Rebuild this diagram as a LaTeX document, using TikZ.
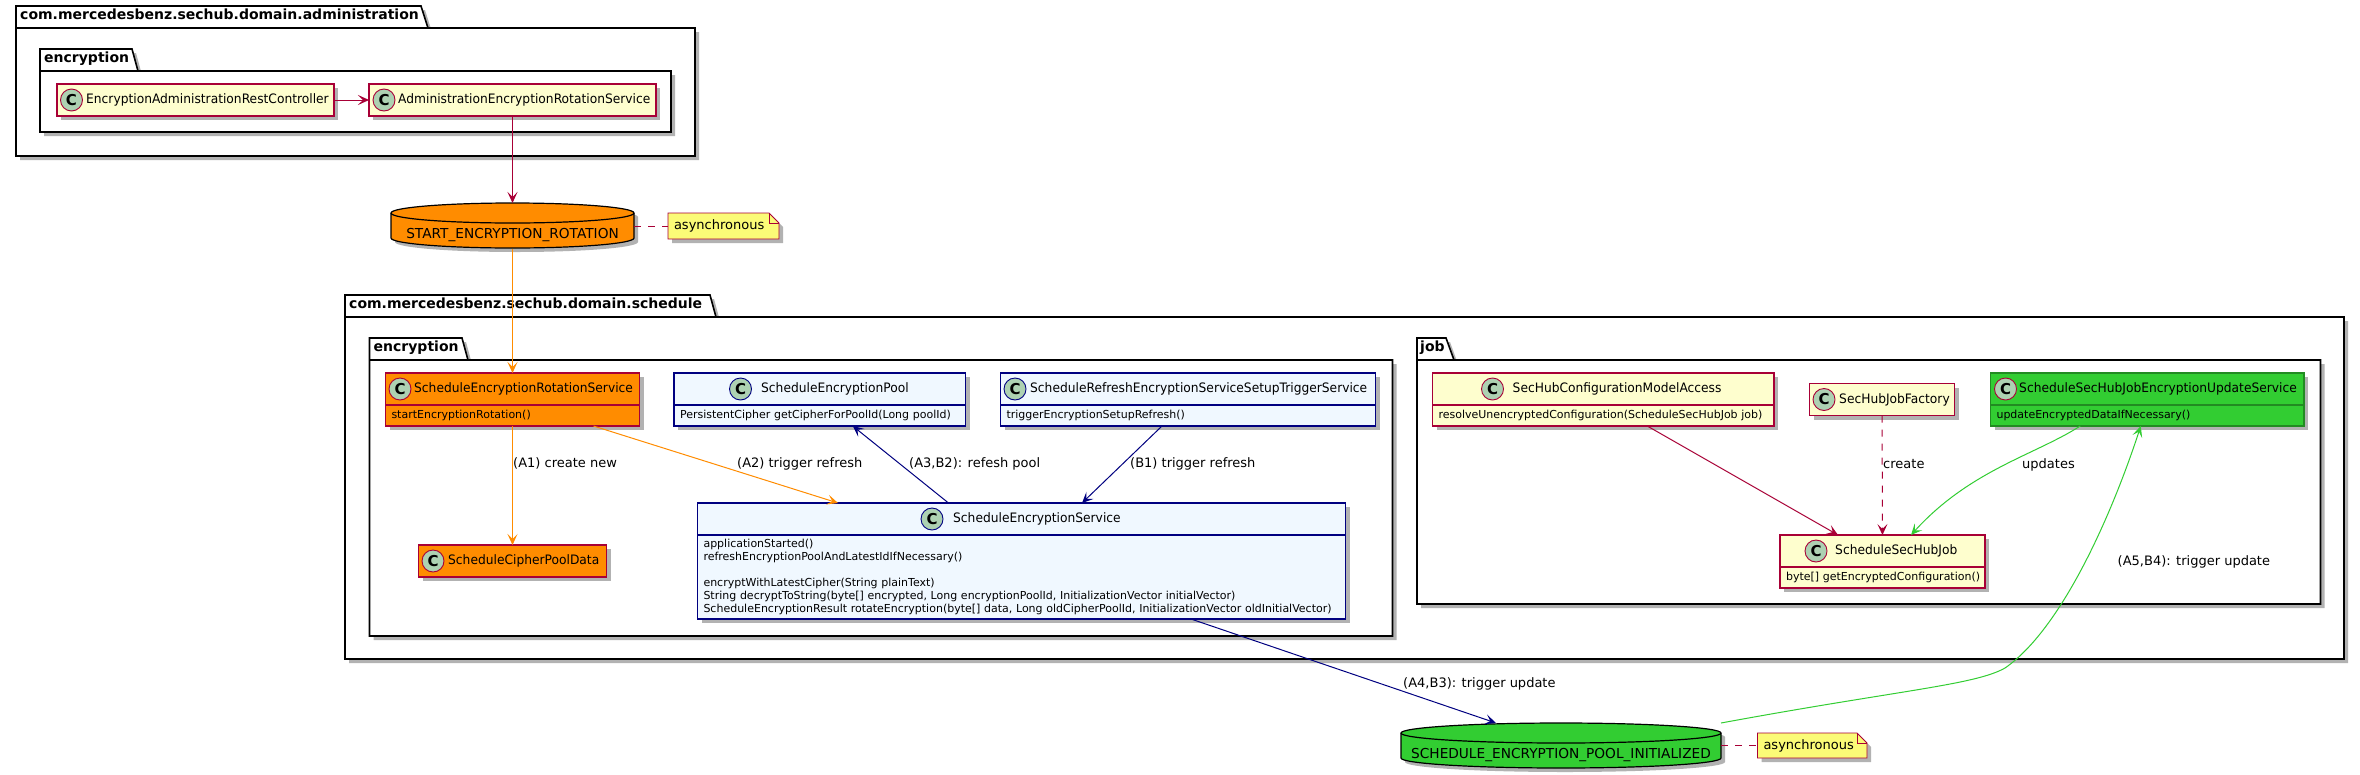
\documentclass[tikz,border=0pt]{standalone}
\usepackage{fontspec}
\setmainfont{DejaVu Sans}
\newfontfamily\classfont[FakeStretch=0.943]{DejaVu Sans}
\usetikzlibrary{arrows.meta,shadows}
\definecolor{classred}{HTML}{A80036}
\definecolor{classfill}{HTML}{FEFECE}
\definecolor{spotfill}{HTML}{ADD1B2}
\definecolor{notefill}{HTML}{FBFB77}
\definecolor{bluefill}{HTML}{F0F8FF}
\definecolor{bluedraw}{HTML}{000080}
\definecolor{orangefill}{HTML}{FF8C00}
\definecolor{greenfill}{HTML}{32CD32}
\definecolor{greendraw}{HTML}{228B22}
\begin{document}
\begin{tikzpicture}[x=1pt, y=-1pt,
    softshadow/.style={drop shadow={shadow xshift=4pt, shadow yshift=-4pt, fill=black, opacity=0.3}},
    package/.style={draw=black, line width=1.6pt, fill=white, line join=miter, softshadow},
    pkglabel/.style={anchor=west, inner sep=0pt, text height=10pt, text depth=3pt, font=\fontsize{14}{16}\selectfont\bfseries},
    classbox/.style={rectangle, draw=classred, fill=classfill, line width=1.1pt, anchor=north west, minimum height=32pt, inner sep=0pt, outer sep=0pt, softshadow},
    methodbox/.style={classbox, minimum height=21pt, inner xsep=6pt, align=left, font=\fontsize{11}{12.9}\selectfont},
    bluestyle/.style={draw=bluedraw, fill=bluefill},
    orangestyle/.style={fill=orangefill},
    greenstyle/.style={draw=greendraw, fill=greenfill},
    spot/.style={circle, draw=classred, fill=spotfill, line width=0.9pt, minimum size=22pt, inner sep=0pt, font=\fontsize{15}{16}\selectfont\bfseries},
    title/.style={anchor=west, inner sep=0pt, text height=10pt, text depth=3pt, font=\classfont\fontsize{13}{15}\selectfont},
    edgelabel/.style={anchor=west, inner sep=0pt, text height=10pt, text depth=3pt, font=\fontsize{13}{15}\selectfont},
    queuelabel/.style={anchor=center, inner sep=0pt, text height=10pt, text depth=3pt, font=\fontsize{13.7}{16}\selectfont},
    queuepath/.style={draw=black, line width=1.2pt, softshadow},
    notepath/.style={draw=classred, fill=notefill, line width=0.9pt, softshadow},
    notebox/.style={rectangle, minimum height=26pt, inner xsep=6pt, inner ysep=0pt, outer sep=0pt, align=left, font=\fontsize{13}{15}\selectfont},
    conn/.style={line width=1pt, -{Stealth[length=11pt, width=10pt, inset=5pt]}},
    redconn/.style={conn, draw=classred},
    orangeconn/.style={conn, draw=orangefill},
    blueconn/.style={conn, draw=bluedraw},
    greenconn/.style={conn, draw=greenfill}]

    \useasboundingbox (0,0) rectangle (2360,774);

    % packages
    \draw[package] (16,28) -- (16,6) -- (421,6) -- (428,28) -- (695,28) -- (695,156) -- (16,156) -- cycle;
    \draw[line width=1.6pt] (16,28) -- (428,28);
    \node[pkglabel] (pkgadmin) at (20,16) {com.mercedesbenz.sechub.domain.administration};
    \draw[package] (40,71) -- (40,49) -- (132,49) -- (138,71) -- (671,71) -- (671,132) -- (40,132) -- cycle;
    \draw[line width=1.6pt] (40,71) -- (138,71);
    \node[pkglabel] (pkgadminenc) at (44,59) {encryption};
    \draw[package] (345,317) -- (345,295) -- (710,295) -- (716,317) -- (2344,317) -- (2344,659) -- (345,659) -- cycle;
    \draw[line width=1.6pt] (345,317) -- (716,317);
    \node[pkglabel] (pkgschedule) at (349,305) {com.mercedesbenz.sechub.domain.schedule};
    \draw[package] (369.5,360) -- (369.5,338) -- (462,338) -- (468,360) -- (1392.5,360) -- (1392.5,636) -- (369.5,636) -- cycle;
    \draw[line width=1.6pt] (369.5,360) -- (468,360);
    \node[pkglabel] (pkgscheduleenc) at (373.5,348) {encryption};
    \draw[package] (1417,360) -- (1417,338) -- (1446,338) -- (1454,360) -- (2320.5,360) -- (2320.5,604) -- (1417,604) -- cycle;
    \draw[line width=1.6pt] (1417,360) -- (1454,360);
    \node[pkglabel] (pkgjob) at (1420,348) {job};

    % administration
    \node[classbox, minimum width=277pt] (adminctrl) at (57,84) {};
    \node[spot] (adminctrlspot) at (71.5,100) {C};
    \node[title] (adminctrltitle) at (86,100) {EncryptionAdministrationRestController};
    \node[classbox, minimum width=287pt] (adminrot) at (369,84) {};
    \node[spot] (adminrotspot) at (384,100) {C};
    \node[title] (adminrottitle) at (398,100) {AdministrationEncryptionRotationService};

    % events
    \draw[queuepath, fill=orangefill] (391,213) arc[start angle=180, end angle=0, x radius=121.5pt, y radius=10pt] -- (634,238) arc[start angle=0, end angle=-180, x radius=121.5pt, y radius=10pt] -- cycle;
    \draw[line width=1.2pt] (391,213) arc[start angle=180, end angle=360, x radius=121.5pt, y radius=10pt];
    \node[minimum width=243pt, minimum height=46pt, inner sep=0pt, outer sep=0pt] (startq) at (512.5,226) {};
    \node[queuelabel] (startqtitle) at (512.5,235) {START\_ENCRYPTION\_ROTATION};
    \draw[notepath] (668,213) -- (769,213) -- (779,223) -- (779,239) -- (668,239) -- cycle;
    \draw[draw=classred, line width=0.9pt] (769,213) -- (769,223) -- (779,223);
    \node[notebox, text width=99pt] (startnote) at (723.5,226) {asynchronous};

    \draw[queuepath, fill=greenfill] (1401,733) arc[start angle=180, end angle=0, x radius=160pt, y radius=10pt] -- (1721,758) arc[start angle=0, end angle=-180, x radius=160pt, y radius=10pt] -- cycle;
    \draw[line width=1.2pt] (1401,733) arc[start angle=180, end angle=360, x radius=160pt, y radius=10pt];
    \node[minimum width=320pt, minimum height=45pt, inner sep=0pt, outer sep=0pt] (poolq) at (1561,745.5) {};
    \node[queuelabel] (poolqtitle) at (1561,755) {SCHEDULE\_ENCRYPTION\_POOL\_INITIALIZED};
    \draw[notepath] (1757.5,733) -- (1857,733) -- (1867,743) -- (1867,758) -- (1757.5,758) -- cycle;
    \draw[draw=classred, line width=0.9pt] (1857,733) -- (1857,743) -- (1867,743);
    \node[notebox, text width=97.5pt] (poolnote) at (1812.25,745.5) {asynchronous};

    % schedule encryption
    \node[classbox, orangestyle, minimum width=254pt] (rotation) at (385.5,373) {};
    \node[spot] (rotationspot) at (400,389) {C};
    \node[title] (rotationtitle) at (414,389) {ScheduleEncryptionRotationService};
    \node[methodbox, orangestyle, text width=242pt] (rotationm) at (385.5,405) {startEncryptionRotation()};
    \node[classbox, orangestyle, minimum width=188pt] (cipherdata) at (418.5,545) {};
    \node[spot] (cipherdataspot) at (433,561) {C};
    \node[title] (cipherdatatitle) at (448,561) {ScheduleCipherPoolData};

    \node[classbox, bluestyle, minimum width=291.5pt] (pool) at (674,373) {};
    \node[spot, draw=bluedraw] (poolspot) at (740.5,389) {C};
    \node[title] (pooltitle) at (761,389) {ScheduleEncryptionPool};
    \node[methodbox, bluestyle, text width=279.5pt] (poolm) at (674,405) {PersistentCipher getCipherForPoolId(Long poolId)};

    \node[classbox, bluestyle, minimum width=375pt] (refresh) at (1000.5,373) {};
    \node[spot, draw=bluedraw] (refreshspot) at (1015,389) {C};
    \node[title] (refreshtitle) at (1030,389) {ScheduleRefreshEncryptionServiceSetupTriggerService};
    \node[methodbox, bluestyle, text width=363pt] (refreshm) at (1000.5,405) {triggerEncryptionSetupRefresh()};

    \node[classbox, bluestyle, minimum width=648pt] (enc) at (697.5,503) {};
    \node[spot, draw=bluedraw] (encspot) at (932,519) {C};
    \node[title] (enctitle) at (953,519) {ScheduleEncryptionService};
    \node[methodbox, bluestyle, minimum height=84pt, text width=636pt] (encm) at (697.5,535) {applicationStarted()\\
        refreshEncryptionPoolAndLatestIdIfNecessary()\\[12.9pt]
        encryptWithLatestCipher(String plainText)\\
        String decryptToString(byte[] encrypted, Long encryptionPoolId, InitializationVector initialVector)\\
        ScheduleEncryptionResult rotateEncryption(byte[] data, Long oldCipherPoolId, InitializationVector oldInitialVector)};

    % schedule job
    \node[classbox, minimum width=341.5pt] (config) at (1432.5,373) {};
    \node[spot] (configspot) at (1492.5,389) {C};
    \node[title] (configtitle) at (1512.5,389) {SecHubConfigurationModelAccess};
    \node[methodbox, text width=329.5pt] (configm) at (1432.5,405) {resolveUnencryptedConfiguration(ScheduleSecHubJob job)};

    \node[classbox, minimum width=145pt] (factory) at (1809.5,383.5) {};
    \node[spot] (factoryspot) at (1824,399.5) {C};
    \node[title] (factorytitle) at (1839,399.5) {SecHubJobFactory};

    \node[classbox, greenstyle, minimum width=313.5pt] (updater) at (1990.5,373) {};
    \node[spot] (updaterspot) at (2005.5,389) {C};
    \node[title] (updatertitle) at (2019,389) {ScheduleSecHubJobEncryptionUpdateService};
    \node[methodbox, greenstyle, text width=301.5pt] (updaterm) at (1990.5,405) {updateEncryptedDataIfNecessary()};

    \node[classbox, minimum width=205pt] (secjob) at (1780,535) {};
    \node[spot] (secjobspot) at (1816,551) {C};
    \node[title] (secjobtitle) at (1835,551) {ScheduleSecHubJob};
    \node[methodbox, text width=193pt] (secjobm) at (1780,567) {\mbox{byte[] getEncryptedConfiguration()}};

    % connectors
    \draw[redconn] (adminctrl) -- (adminrot);
    \draw[redconn] (adminrot) -- (startq);
    \draw[line width=1pt, draw=classred, dash pattern=on 7pt off 7pt] (startq) -- (startnote);
    \draw[orangeconn] (startq) -- (rotation);
    \draw[orangeconn] (rotationm) -- (cipherdata);
    \draw[orangeconn] ([xshift=81pt]rotationm.south) -- ([xshift=-183.5pt]enc.north);
    \draw[blueconn] ([xshift=-73pt]enc.north) -- ([xshift=33pt]poolm.south);
    \draw[blueconn] ([xshift=-26pt]refreshm.south) -- ([xshift=60.5pt]enc.north);
    \draw[blueconn] ([xshift=169.5pt]encm.south) -- ([xshift=-65pt]poolq.north);
    \draw[redconn] ([xshift=44pt]configm.south) -- ([xshift=-44.5pt]secjob.north);
    \draw[redconn, dash pattern=on 7pt off 7pt] (factory) -- (secjob);
    \draw[greenconn] ([xshift=-67pt]updaterm.south) .. controls (2035,455) and (1970,470) .. ([xshift=28.5pt]secjob.north);
    \draw[greenconn] (poolq.north east) .. controls (1900,690) and (1975,685) .. (2005,668) .. controls (2060,630) and (2110,520) .. ([xshift=-6.5pt]updaterm.south);
    \draw[line width=1pt, draw=classred, dash pattern=on 7pt off 7pt] (poolq) -- (poolnote);

    % labels
    \node[edgelabel] (labela1) at (513,464) {(A1) create new};
    \node[edgelabel] (labela2) at (737,464) {(A2) trigger refresh};
    \node[edgelabel] (labela3) at (909,464) {(A3,B2): refesh pool};
    \node[edgelabel] (labelb1) at (1130,464) {(B1) trigger refresh};
    \node[edgelabel] (labela4) at (1403,684) {(A4,B3): trigger update};
    \node[edgelabel] (labelcreate) at (1883,465) {create};
    \node[edgelabel] (labelupdates) at (2022,465) {updates};
    \node[edgelabel] (labela5) at (2117.5,562) {(A5,B4): trigger update};
\end{tikzpicture}
\end{document}
